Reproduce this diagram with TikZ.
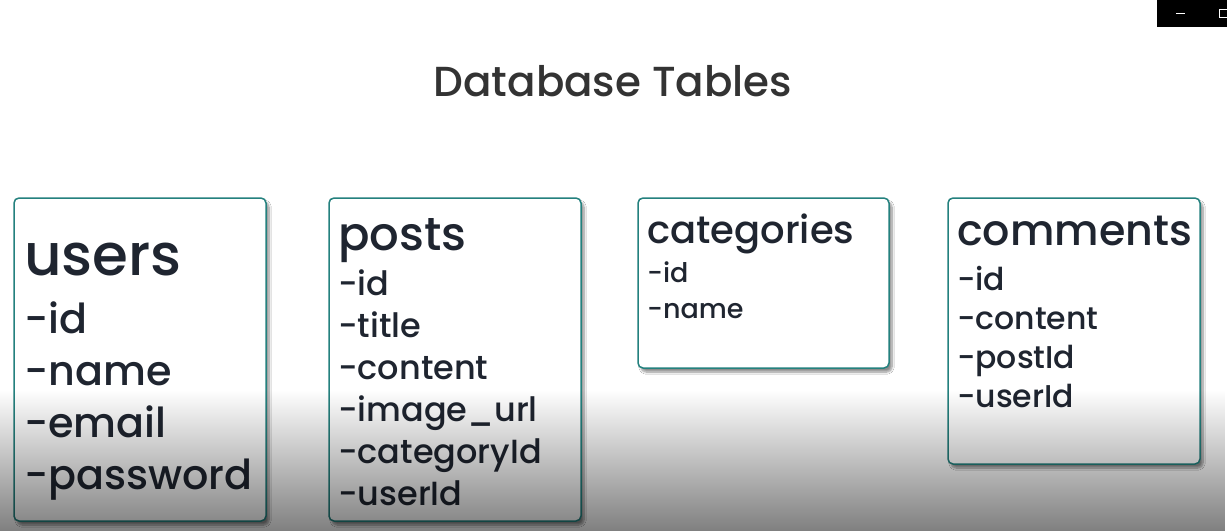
\documentclass[tikz,border=0pt]{standalone}
\usepackage{fontspec}
\setmainfont{Poppins Medium}
\usetikzlibrary{shadows.blur,fadings}
\definecolor{tealline}{HTML}{24817E}
\definecolor{inkdark}{HTML}{1F2530}
\definecolor{titlegray}{HTML}{333333}
\tikzfading[name=fadedown, top color=transparent!100, bottom color=transparent!0]
\tikzstyle{tablebox}=[draw=tealline, line width=1.5pt, fill=white, rounded corners=5pt,
  blur shadow={shadow xshift=3pt, shadow yshift=-4pt, shadow blur steps=8, shadow opacity=45}]
\tikzstyle{tname}=[anchor=base west, inner sep=0pt, text=inkdark]
\tikzstyle{field}=[anchor=base west, inner sep=0pt, text=inkdark]

\begin{document}
\begin{tikzpicture}[x=1pt,y=-1pt]
  \useasboundingbox (0,0) rectangle (1227,531);
  \fill[white] (0,0) rectangle (1227,531);
  % window buttons
  \fill[black] (1157,0) rectangle (1227,27);
  \draw[white, line width=1pt] (1176,13) -- (1185,13);
  \draw[white, line width=0.8pt] (1219,9) rectangle (1227,17);

  \node (title) [anchor=base, text=titlegray, font=\fontsize{42}{48}\selectfont] at (613,96) {Database Tables};

  % users
  \draw[tablebox] (14,198) rectangle (266,521);
  \node (users) [tname, font=\fontsize{58}{66}\selectfont] at (24,275) {users};
  \foreach \f [count=\i] in {-id,-name,-email,-password}
    \node (users\i) [field, font=\fontsize{41.3}{48}\selectfont] at (24,281+52*\i) {\f};

  % posts
  \draw[tablebox] (329,198) rectangle (581,521);
  \node (posts) [tname, font=\fontsize{46.5}{52}\selectfont] at (338,250) {posts};
  \foreach \f [count=\i] in {-id,-title,-content,-image\_url,-categoryId,-userId}
    \node (posts\i) [field, font=\fontsize{33.5}{40}\selectfont] at (338,253+42*\i) {\f};

  % categories
  \draw[tablebox] (638,198) rectangle (889,368);
  \node (categories) [tname, font=\fontsize{38.5}{44}\selectfont] at (647,243) {categories};
  \foreach \f [count=\i] in {-id,-name}
    \node (categories\i) [field, font=\fontsize{27}{32}\selectfont] at (647,246+36*\i) {\f};

  % comments
  \draw[tablebox] (948,198) rectangle (1200,464);
  \node (comments) [tname, font=\fontsize{42.8}{48}\selectfont] at (957,245) {comments};
  \foreach \f [count=\i] in {-id,-content,-postId,-userId}
    \node (comments\i) [field, font=\fontsize{31.5}{36}\selectfont] at (957,251+39*\i) {\f};

  % dark band at the bottom
  \fill[black, path fading=fadedown, fill opacity=0.5] (0,390) rectangle (1227,531);
\end{tikzpicture}
\end{document}
